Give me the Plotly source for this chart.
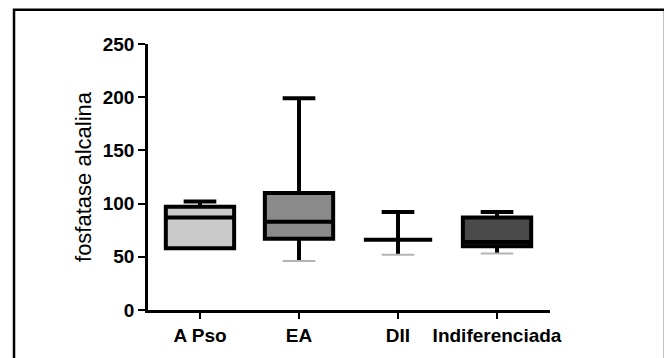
import plotly.graph_objects as go

categories = ["A Pso", "EA", "DII", "Indiferenciada"]
min_vals = [58, 46, 52, 53]
q1_vals = [58, 67, 66, 60]
median_vals = [87, 83, 66, 64]
q3_vals = [97, 110, 66, 87]
max_vals = [102, 199, 92, 92]
fill_colors = ["#cacaca", "#8a8a8a", "#ffffff", "#4a4a4a"]
y_ticks = [0, 50, 100, 150, 200, 250]

CAP = 0.165
fig = go.Figure()
for i, cat in enumerate(categories):
    fig.add_trace(go.Box(
        x=[i], q1=[q1_vals[i]], median=[median_vals[i]], q3=[q3_vals[i]],
        lowerfence=[min_vals[i]], upperfence=[max_vals[i]],
        fillcolor=fill_colors[i], line=dict(color="black", width=4),
        width=0.69, whiskerwidth=0, boxpoints=False, showlegend=False,
        hoverinfo="skip", name=cat,
    ))
    # upper cap (black)
    if max_vals[i] > q3_vals[i]:
        fig.add_trace(go.Scatter(
            x=[i - CAP, i + CAP], y=[max_vals[i], max_vals[i]],
            mode="lines", line=dict(color="black", width=4),
            showlegend=False, hoverinfo="skip",
        ))
    # lower cap (light gray)
    if min_vals[i] < q1_vals[i]:
        fig.add_trace(go.Scatter(
            x=[i - CAP, i + CAP], y=[min_vals[i], min_vals[i]],
            mode="lines", line=dict(color="#b4b4b4", width=2),
            showlegend=False, hoverinfo="skip",
        ))

fig.update_layout(
    width=664, height=350,
    margin=dict(l=140, r=122, t=36, b=44),
    paper_bgcolor="white", plot_bgcolor="white",
    xaxis=dict(
        range=[-0.525, 3.535], tickvals=list(range(len(categories))), ticktext=categories,
        showline=True, linecolor="black", linewidth=2.5,
        ticks="outside", ticklen=6, tickwidth=2, tickcolor="black",
        tickfont=dict(family="Arial", size=19, color="black", weight="bold"),
        showgrid=False, zeroline=False,
    ),
    yaxis=dict(
        range=[0, 250], tickvals=y_ticks,
        showline=True, linecolor="black", linewidth=2.5,
        ticks="outside", ticklen=7, tickwidth=2, tickcolor="black",
        tickfont=dict(family="Arial", size=19, color="black", weight="bold"),
        showgrid=False, zeroline=False,
        title=dict(text="fosfatase alcalina", font=dict(family="Arial", size=22, color="black"), standoff=6),
    ),
    shapes=[dict(type="rect", xref="paper", yref="paper",
                 x0=-0.3333, x1=1.2861, y0=-0.3, y1=1.1287,
                 line=dict(color="black", width=2.5), fillcolor="rgba(0,0,0,0)")],
)
fig.write_html("out.html")
